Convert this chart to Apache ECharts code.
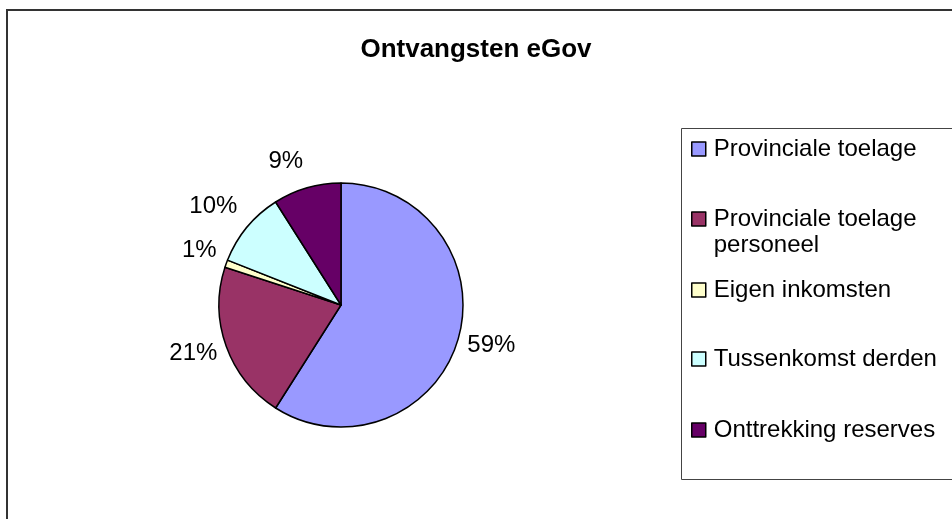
<!DOCTYPE html>
<html>
<head>
<meta charset="utf-8">
<script src="https://cdn.jsdelivr.net/npm/echarts@6/dist/echarts.min.js"></script>
<style>
html,body{margin:0;padding:0;background:#fff;}
#chart{width:952px;height:519px;}
</style>
</head>
<body>
<div id="chart"></div>
<script>
const titleText = 'Ontvangsten eGov';
const categories = ['Provinciale toelage', 'Provinciale toelage personeel', 'Eigen inkomsten', 'Tussenkomst derden', 'Onttrekking reserves'];
const values = [59, 21, 1, 10, 9];
const colors = ['#9999FF', '#993366', '#FFFFCC', '#CCFFFF', '#660066'];
// label placement tweaks (outward distance, horizontal shift) per slice
const labelOut = [21, 20, 40, 32, 28];
const labelShift = [-11, -10, -28, -15, -4];
const legendCenters = [149, 219, 290, 359, 430];

const FONT = '"Liberation Sans", Arial, sans-serif';
const chart = echarts.init(document.getElementById('chart'), null, {renderer: 'canvas'});

const LH = 26;
const legends = categories.map((name, i) => {
  const twoLine = name === 'Provinciale toelage personeel';
  return {
    data: [name],
    orient: 'vertical',
    left: 691,
    top: twoLine ? legendCenters[i] - LH * 1.5 : legendCenters[i] - LH / 2,
    padding: 0,
    itemWidth: 14,
    itemHeight: 14,
    itemGap: 0,
    icon: 'rect',
    selectedMode: false,
    itemStyle: {borderColor: '#000', borderWidth: 1.5},
    formatter: n => twoLine ? ' \nProvinciale toelage\npersoneel' : n,
    textStyle: {
      fontFamily: FONT, fontSize: 24, color: '#000', lineHeight: LH,
      padding: [0, 0, 0, 3]
    }
  };
});

const option = {
  backgroundColor: '#fff',
  animation: false,
  title: {
    text: titleText,
    left: 'center',
    top: 32,
    textStyle: {fontFamily: FONT, fontSize: 26, fontWeight: 'bold', color: '#000'}
  },
  legend: legends,
  graphic: [
    {type: 'rect', shape: {x: 7, y: 10, width: 1000, height: 600}, style: {fill: 'none', stroke: '#333', lineWidth: 2}, z: 100},
    {type: 'rect', shape: {x: 681.5, y: 128.5, width: 400, height: 351}, style: {fill: 'none', stroke: '#444', lineWidth: 1}, z: 100}
  ],
  series: [{
    type: 'pie',
    center: [341, 305],
    radius: 122,
    startAngle: 90,
    clockwise: true,
    avoidLabelOverlap: false,
    label: {
      show: true,
      position: 'outside',
      formatter: p => p.value + '%',
      fontFamily: FONT, fontSize: 24, color: '#000',
      distanceToLabelLine: 0
    },
    labelLine: {show: false, length: 10, length2: 0},
    itemStyle: {borderColor: '#000', borderWidth: 1.5},
    emphasis: {disabled: true},
    data: categories.map((name, i) => ({
      name: name,
      value: values[i],
      itemStyle: {color: colors[i]},
      labelLine: {show: false, length: labelOut[i], length2: labelShift[i]}
    }))
  }]
};
chart.setOption(option);
</script>
</body>
</html>
